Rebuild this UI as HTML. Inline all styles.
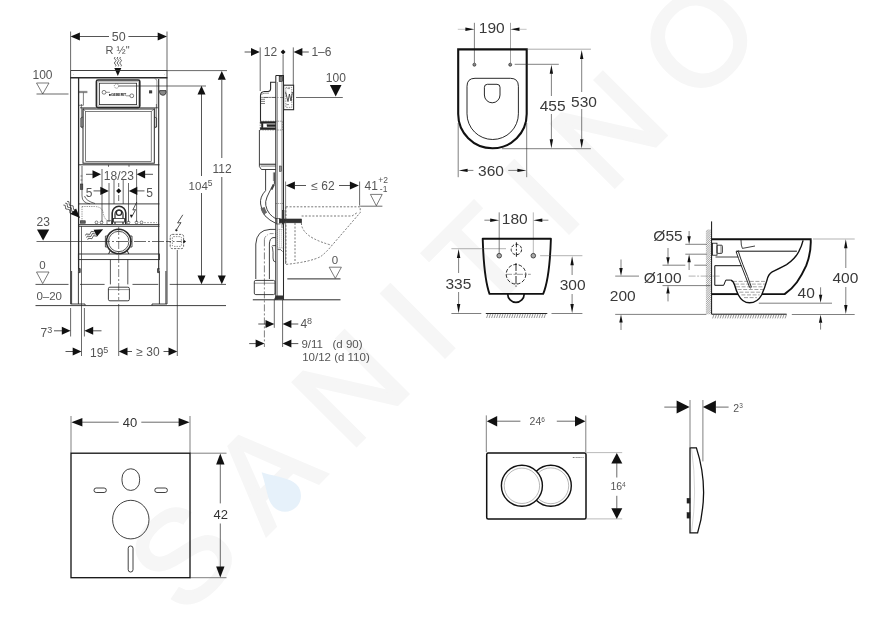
<!DOCTYPE html>
<html lang="en">
<head>
<meta charset="utf-8">
<title>Technical drawing</title>
<style>
html,body{margin:0;padding:0;background:#fff;}
body{width:872px;height:630px;overflow:hidden;}
svg{display:block;filter:blur(0.45px);}
svg text{font-family:"Liberation Sans",sans-serif;}
</style>
</head>
<body>
<svg width="872" height="630" viewBox="0 0 872 630">
<rect x="0" y="0" width="872" height="630" fill="#ffffff"/>
<g id="watermark" transform="rotate(-45)">
<text x="-307" y="567" font-size="130" fill="#f6f6f6" stroke="#f6f6f6" stroke-width="3" letter-spacing="30" xml:space="preserve">SANITINO</text>
<path d="M0,-33 C9,-16 16,-9 16,0 A16,16 0 0 1 -16,0 C-16,-9 -9,-16 0,-33 Z" fill="#e6f1fa" transform="translate(-149,552)"/>
</g>
<g id="frame-front">
<line x1="70.6" y1="31.5" x2="70.6" y2="70.6" stroke="#2a2a2a" stroke-width="0.7"/>
<line x1="167" y1="31.5" x2="167" y2="70.6" stroke="#2a2a2a" stroke-width="0.7"/>
<line x1="79" y1="36.5" x2="109" y2="36.5" stroke="#2a2a2a" stroke-width="0.8"/>
<line x1="128.4" y1="36.5" x2="158" y2="36.5" stroke="#2a2a2a" stroke-width="0.8"/>
<polygon points="70.6,36.5 79.89999999999999,32.5 79.89999999999999,40.5" fill="#111"/>
<polygon points="167,36.5 157.7,32.5 157.7,40.5" fill="#111"/>
<text x="118.7" y="41" font-size="12.5" text-anchor="middle" fill="#555" >50</text>
<text x="117.5" y="54" font-size="11" text-anchor="middle" fill="#555" >R ½"</text>
<path d="M115.2,57 q-1.8,1.2 0,2.4 q1.8,1.2 0,2.4 q-1.8,1.2 0,2.4 q1.4,1 0.4,2.2" fill="none" stroke="#2a2a2a" stroke-width="0.75" />
<path d="M117.9,57 q-1.8,1.2 0,2.4 q1.8,1.2 0,2.4 q-1.8,1.2 0,2.4 q1.4,1 0.4,2.2" fill="none" stroke="#2a2a2a" stroke-width="0.75" />
<path d="M120.60000000000001,57 q-1.8,1.2 0,2.4 q1.8,1.2 0,2.4 q-1.8,1.2 0,2.4 q1.4,1 0.4,2.2" fill="none" stroke="#2a2a2a" stroke-width="0.75" />
<polygon points="117.8,76 114.3,68 121.3,68" fill="#111"/>
<text x="42.5" y="79" font-size="12" text-anchor="middle" fill="#555" >100</text>
<path d="M36.5,83 L49,83 L42.7,94 Z" fill="none" stroke="#444" stroke-width="0.7" />
<line x1="36.5" y1="94" x2="68.5" y2="94" stroke="#2a2a2a" stroke-width="0.7"/>
<line x1="70.6" y1="70.5" x2="167" y2="70.5" stroke="#2a2a2a" stroke-width="0.9"/>
<line x1="70.2" y1="77.7" x2="167.4" y2="77.7" stroke="#2a2a2a" stroke-width="1.5"/>
<line x1="167" y1="70.6" x2="227" y2="70.6" stroke="#2a2a2a" stroke-width="0.7"/>
<line x1="70.6" y1="70.5" x2="70.6" y2="304" stroke="#2a2a2a" stroke-width="0.9"/>
<line x1="167" y1="70.5" x2="167" y2="304" stroke="#2a2a2a" stroke-width="0.9"/>
<line x1="78.6" y1="77.7" x2="78.6" y2="271" stroke="#2a2a2a" stroke-width="1.3"/>
<line x1="158.7" y1="79" x2="158.7" y2="271" stroke="#2a2a2a" stroke-width="1.1"/>
<path d="M154.6,78.6 Q156.9,78.8 156.9,81 V108" fill="none" stroke="#555" stroke-width="0.6" />
<text x="72.6" y="74.6" font-size="2.4" fill="#444">+</text><text x="163.6" y="74.6" font-size="2.4" fill="#444">+</text>
<rect x="96.4" y="80" width="43.4" height="27.6" rx="1.5" fill="none" stroke="#2a2a2a" stroke-width="1.6"/>
<rect x="99.5" y="83.2" width="37.1" height="21.4" rx="0" fill="none" stroke="#2a2a2a" stroke-width="0.8"/>
<rect x="98" y="81.6" width="40.2" height="24.4" rx="0" fill="none" stroke="#666" stroke-width="0.4"/>
<circle cx="116.5" cy="86" r="2.2" fill="none" stroke="#2a2a2a" stroke-width="0.5" stroke-dasharray="1.2 0.8"/>
<circle cx="104" cy="92.3" r="1.9" fill="none" stroke="#2a2a2a" stroke-width="0.6"/>
<circle cx="131.8" cy="95.8" r="1.9" fill="none" stroke="#2a2a2a" stroke-width="0.6"/>
<line x1="106" y1="92.3" x2="110" y2="92.3" stroke="#2a2a2a" stroke-width="0.5"/>
<line x1="126" y1="95.8" x2="130" y2="95.8" stroke="#2a2a2a" stroke-width="0.5"/>
<text x="117.5" y="95.6" font-size="3.6" font-weight="bold" text-anchor="middle" fill="#222" letter-spacing="-0.1">■GEBERIT</text>
<line x1="118.5" y1="86" x2="206" y2="86" stroke="#2a2a2a" stroke-width="0.7"/>
<path d="M78.7,91.4 H87.4 M78.7,92.6 H87.4 M83.4,92.6 V105.3 H78.7" fill="none" stroke="#2a2a2a" stroke-width="0.6" />
<rect x="149.5" y="90.8" width="2.3" height="2.2" rx="0" fill="#444" stroke="#2a2a2a" stroke-width="0.7"/>
<path d="M159.6,90.6 H166 V92.6 Q165.6,95.3 163,95.3 Q160.2,95.3 159.6,92.6 Z" fill="#888" stroke="#2a2a2a" stroke-width="0.8" />
<path d="M96.4,107.8 H80 M139.8,107.8 H157.9" fill="none" stroke="#2a2a2a" stroke-width="0.8" />
<path d="M81.4,104 V127 M83,108 V127 M81.4,127 H83" fill="none" stroke="#2a2a2a" stroke-width="0.6" />
<path d="M156.4,104 V127 M154.8,108 V127 M156.4,127 H154.8" fill="none" stroke="#2a2a2a" stroke-width="0.6" />
<rect x="83" y="109" width="71.3" height="54.2" rx="0" fill="none" stroke="#2a2a2a" stroke-width="1.0"/>
<rect x="85.7" y="111.4" width="65.5" height="50.0" rx="0" fill="none" stroke="#2a2a2a" stroke-width="0.6"/>
<path d="M83,109 L85.7,111.4 M154.3,109 L151.2,111.4" fill="none" stroke="#2a2a2a" stroke-width="0.5" />
<path d="M154.5,117 L156.6,118 V127 L154.5,128" fill="none" stroke="#2a2a2a" stroke-width="0.7" />
<path d="M82.8,117 L80.8,118 V127 L82.8,128" fill="none" stroke="#2a2a2a" stroke-width="0.7" />
<line x1="78.4" y1="164.8" x2="159.4" y2="164.8" stroke="#2a2a2a" stroke-width="1.0"/>
<line x1="108.5" y1="164.8" x2="108.5" y2="166.8" stroke="#2a2a2a" stroke-width="0.7"/>
<line x1="129" y1="164.8" x2="129" y2="166.8" stroke="#2a2a2a" stroke-width="0.7"/>
<path d="M82,166 V196 Q82,203 90,203.8" fill="none" stroke="#2a2a2a" stroke-width="0.7" />
<path d="M84.5,196 Q86,201 95,203.5" fill="none" stroke="#2a2a2a" stroke-width="0.7" />
<rect x="80.4" y="184" width="2.4" height="5.5" rx="0" fill="#555" stroke="#2a2a2a" stroke-width="0.6"/>
<path d="M80.4,176 H82.4 M80.4,180 H82.4" fill="none" stroke="#2a2a2a" stroke-width="0.5" />
<text x="118.8" y="180" font-size="12" text-anchor="middle" fill="#555" >18/23</text>
<polygon points="101,174.3 92.5,170.20000000000002 92.5,178.4" fill="#111"/>
<line x1="86" y1="174.3" x2="93" y2="174.3" stroke="#2a2a2a" stroke-width="0.8"/>
<polygon points="136.6,174.3 145.1,170.20000000000002 145.1,178.4" fill="#111"/>
<line x1="145" y1="174.3" x2="153" y2="174.3" stroke="#2a2a2a" stroke-width="0.8"/>
<line x1="102" y1="169" x2="102" y2="222" stroke="#2a2a2a" stroke-width="0.7"/>
<line x1="136.6" y1="169" x2="136.6" y2="222" stroke="#2a2a2a" stroke-width="0.7"/>
<text x="89" y="196.5" font-size="12" text-anchor="middle" fill="#555" >5</text>
<text x="149.5" y="196.5" font-size="12" text-anchor="middle" fill="#555" >5</text>
<line x1="93.5" y1="190.9" x2="101" y2="190.9" stroke="#2a2a2a" stroke-width="0.8"/>
<polygon points="108.8,190.9 100.3,186.8 100.3,195.0" fill="#111"/>
<line x1="137" y1="190.9" x2="144.5" y2="190.9" stroke="#2a2a2a" stroke-width="0.8"/>
<polygon points="128.8,190.9 137.3,186.8 137.3,195.0" fill="#111"/>
<line x1="109" y1="183" x2="109" y2="222" stroke="#2a2a2a" stroke-width="0.7"/>
<line x1="128.5" y1="183" x2="128.5" y2="222" stroke="#2a2a2a" stroke-width="0.7"/>
<line x1="114" y1="180" x2="114" y2="204" stroke="#2a2a2a" stroke-width="0.7"/>
<line x1="123.2" y1="180" x2="123.2" y2="204" stroke="#2a2a2a" stroke-width="0.7"/>
<line x1="118.7" y1="183" x2="118.7" y2="187" stroke="#2a2a2a" stroke-width="0.7"/>
<line x1="118.7" y1="195" x2="118.7" y2="201" stroke="#2a2a2a" stroke-width="0.7"/>
<polygon points="118.7,188.2 121.3,190.9 118.7,193.6 116.1,190.9" fill="#111"/>
<line x1="78.4" y1="203.9" x2="159.4" y2="203.9" stroke="#2a2a2a" stroke-width="0.9"/>
<line x1="78.4" y1="224.6" x2="159.4" y2="224.6" stroke="#2a2a2a" stroke-width="0.9"/>
<line x1="78.4" y1="226.3" x2="159.4" y2="226.3" stroke="#2a2a2a" stroke-width="0.9"/>
<path d="M82,206.5 H95 Q102,207 103,212 Q104,219 108,221" fill="none" stroke="#2a2a2a" stroke-width="0.5" stroke-dasharray="1.3 1" />
<path d="M82,206.5 V222" fill="none" stroke="#2a2a2a" stroke-width="0.5" stroke-dasharray="1.3 1" />
<path d="M112.2,224 V213 A6.5,6.5 0 0 1 125.8,213 V224" fill="none" stroke="#2a2a2a" stroke-width="1.6" />
<path d="M115,224 V214 A3.9,3.9 0 0 1 123,214 V224" fill="none" stroke="#2a2a2a" stroke-width="1.2" />
<rect x="113.5" y="218.5" width="11.0" height="3.5" rx="0" fill="#fff" stroke="#2a2a2a" stroke-width="0.8"/>
<circle cx="119" cy="212.8" r="2.6" fill="none" stroke="#2a2a2a" stroke-width="1.2"/>
<circle cx="96.5" cy="222.4" r="1.4" fill="none" stroke="#2a2a2a" stroke-width="0.6"/>
<circle cx="101.5" cy="222.4" r="1.4" fill="none" stroke="#2a2a2a" stroke-width="0.6"/>
<circle cx="128.5" cy="222.4" r="1.4" fill="none" stroke="#2a2a2a" stroke-width="0.6"/>
<circle cx="136.5" cy="222.4" r="1.4" fill="none" stroke="#2a2a2a" stroke-width="0.6"/>
<circle cx="141.5" cy="222.4" r="1.4" fill="none" stroke="#2a2a2a" stroke-width="0.6"/>
<rect x="107" y="220.8" width="4.5" height="3.5" rx="0" fill="none" stroke="#2a2a2a" stroke-width="0.6"/>
<rect x="80.5" y="220.8" width="4.7" height="2.4" rx="0" fill="#666" stroke="#2a2a2a" stroke-width="0.7"/>
<line x1="144" y1="222.6" x2="157" y2="222.6" stroke="#2a2a2a" stroke-width="0.4" stroke-dasharray="2 1"/>
<path d="M136.8,202 L132.8,210 L135.6,209.6 L131.8,216.8" fill="none" stroke="#2a2a2a" stroke-width="0.8" />
<polygon points="131.2,218.2 129.89999999999998,214.79999999999998 132.5,214.79999999999998" fill="#111"/>
<g transform="translate(65.2,203.2) rotate(45)">
<path d="M0,-2.6 q1.5,-2.2 3,0 q1.5,2.2 3,0 q1.5,-2.2 3,0 q1.5,2.2 3,0" fill="none" stroke="#2a2a2a" stroke-width="0.7" />
<path d="M0,0 q1.5,-2.2 3,0 q1.5,2.2 3,0 q1.5,-2.2 3,0 q1.5,2.2 3,0" fill="none" stroke="#2a2a2a" stroke-width="0.7" />
<path d="M0,2.6 q1.5,-2.2 3,0 q1.5,2.2 3,0 q1.5,-2.2 3,0 q1.5,2.2 3,0" fill="none" stroke="#2a2a2a" stroke-width="0.7" />
<polygon points="21,0 11.4,-4 11.4,4" fill="#111"/>
</g>
<g transform="translate(86.6,237.6) rotate(-27)">
<path d="M0,-2.4 q1.4,-2 2.8,0 q1.4,2 2.8,0 q1.4,-2 2.8,0 q1.2,1.6 2.2,0.6" fill="none" stroke="#2a2a2a" stroke-width="0.7" />
<path d="M0,0 q1.4,-2 2.8,0 q1.4,2 2.8,0 q1.4,-2 2.8,0 q1.2,1.6 2.2,0.6" fill="none" stroke="#2a2a2a" stroke-width="0.7" />
<path d="M0,2.4 q1.4,-2 2.8,0 q1.4,2 2.8,0 q1.4,-2 2.8,0 q1.2,1.6 2.2,0.6" fill="none" stroke="#2a2a2a" stroke-width="0.7" />
<polygon points="18.6,0 9.8,-3.8 9.8,3.8" fill="#111"/>
</g>
<text x="43.2" y="226.3" font-size="12" text-anchor="middle" fill="#555" >23</text>
<polygon points="37,229.6 49.2,229.6 43.1,240.6" fill="#111"/>
<line x1="36.5" y1="241.5" x2="98" y2="241.5" stroke="#2a2a2a" stroke-width="0.7"/>
<line x1="98" y1="241.5" x2="166" y2="241.5" stroke="#2a2a2a" stroke-width="0.7" stroke-dasharray="12 2 2 2"/>
<line x1="166" y1="241.5" x2="186" y2="241.5" stroke="#2a2a2a" stroke-width="0.7" stroke-dasharray="5 2 1.5 2"/>
<circle cx="118.7" cy="241.5" r="12.2" fill="none" stroke="#2a2a2a" stroke-width="1.5"/>
<circle cx="118.7" cy="241.5" r="10.2" fill="none" stroke="#2a2a2a" stroke-width="0.8"/>
<path d="M107.8,236 L105.4,236 V247 L107.8,247 M129.6,236 L132,236 V247 L129.6,247" fill="none" stroke="#2a2a2a" stroke-width="0.8" />
<path d="M110,251 L108.6,254 M127.4,251 L128.8,254" fill="none" stroke="#2a2a2a" stroke-width="1.0" />
<line x1="118.7" y1="227" x2="118.7" y2="300" stroke="#2a2a2a" stroke-width="0.6" stroke-dasharray="8 2 2 2"/>
<rect x="78.4" y="254" width="81.0" height="5.6" rx="0" fill="none" stroke="#2a2a2a" stroke-width="0.9"/>
<line x1="110.4" y1="259.6" x2="110.4" y2="284.4" stroke="#2a2a2a" stroke-width="0.8"/>
<line x1="127.8" y1="259.6" x2="127.8" y2="284.4" stroke="#2a2a2a" stroke-width="0.8"/>
<rect x="108.4" y="287.2" width="21.0" height="13.6" rx="1.5" fill="none" stroke="#2a2a2a" stroke-width="0.9"/>
<line x1="108.4" y1="289.6" x2="129.4" y2="289.6" stroke="#2a2a2a" stroke-width="0.5"/>
<line x1="35.5" y1="284.4" x2="68.5" y2="284.4" stroke="#2a2a2a" stroke-width="0.8"/>
<line x1="80" y1="284.4" x2="104.6" y2="284.4" stroke="#2a2a2a" stroke-width="0.8"/>
<line x1="132.5" y1="284.4" x2="158.3" y2="284.4" stroke="#2a2a2a" stroke-width="0.8"/>
<line x1="169.7" y1="284.4" x2="226" y2="284.4" stroke="#2a2a2a" stroke-width="0.8"/>
<line x1="35.5" y1="305.6" x2="226" y2="305.6" stroke="#2a2a2a" stroke-width="0.9"/>
<path d="M71.6,271 V304 M78.4,271 V304 M70.6,304 H85 V305.6" fill="none" stroke="#2a2a2a" stroke-width="0.9" />
<path d="M165.9,271 V304 M159.4,271 V304 M167,304 H152 V305.6" fill="none" stroke="#2a2a2a" stroke-width="0.9" />
<path d="M78.4,268.6 H80.2 V272.6 H78.4 M159.4,268.6 H157.6 V272.6 H159.4" fill="#555" stroke="#2a2a2a" stroke-width="0.8" />
<text x="42.5" y="269.2" font-size="11.5" text-anchor="middle" fill="#555" >0</text>
<path d="M36.5,272 L49,272 L42.7,283.6 Z" fill="none" stroke="#444" stroke-width="0.7" />
<text x="49.2" y="300.4" font-size="11.5" text-anchor="middle" fill="#555" >0–20</text>
<rect x="170.2" y="234.4" width="13.4" height="14.2" rx="2" fill="none" stroke="#2a2a2a" stroke-width="0.7" stroke-dasharray="2.2 1.2"/>
<rect x="172.4" y="236.6" width="9.0" height="9.8" rx="1" fill="none" stroke="#2a2a2a" stroke-width="0.5" stroke-dasharray="1.5 1"/>
<polygon points="186,241.5 183.4,239.6 183.4,243.4" fill="#111"/>
<path d="M182.8,214.8 L177.6,223 L181,222.6 L176.6,229.4" fill="none" stroke="#2a2a2a" stroke-width="0.8" />
<circle cx="176.4" cy="230.2" r="0.9" fill="#111" stroke="#2a2a2a" stroke-width="0.5"/>
<line x1="70.6" y1="308" x2="70.6" y2="336.5" stroke="#2a2a2a" stroke-width="0.7"/>
<line x1="84.4" y1="308" x2="84.4" y2="336.5" stroke="#2a2a2a" stroke-width="0.7"/>
<line x1="81.5" y1="226" x2="81.5" y2="356" stroke="#2a2a2a" stroke-width="0.7"/>
<line x1="118.7" y1="304" x2="118.7" y2="356" stroke="#2a2a2a" stroke-width="0.7"/>
<line x1="177.3" y1="250" x2="177.3" y2="356" stroke="#2a2a2a" stroke-width="0.7"/>
<text x="40.5" y="336.6" font-size="12" text-anchor="start" fill="#555" >7<tspan font-size="9" dy="-4">3</tspan></text>
<line x1="54" y1="330.8" x2="62" y2="330.8" stroke="#2a2a2a" stroke-width="0.8"/>
<polygon points="70.6,330.8 61.8,326.8 61.8,334.8" fill="#111"/>
<polygon points="84.4,330.8 93.2,326.8 93.2,334.8" fill="#111"/>
<line x1="93" y1="330.8" x2="101.5" y2="330.8" stroke="#2a2a2a" stroke-width="0.8"/>
<line x1="65.5" y1="351.5" x2="73" y2="351.5" stroke="#2a2a2a" stroke-width="0.8"/>
<polygon points="81.5,351.5 72.7,347.5 72.7,355.5" fill="#111"/>
<text x="90" y="356.6" font-size="12" text-anchor="start" fill="#555" >19<tspan font-size="9" dy="-4">5</tspan></text>
<polygon points="118.7,351.5 127.5,347.5 127.5,355.5" fill="#111"/>
<line x1="127" y1="351.5" x2="132" y2="351.5" stroke="#2a2a2a" stroke-width="0.8"/>
<text x="148" y="356.4" font-size="12" text-anchor="middle" fill="#555" >≥ 30</text>
<line x1="163.5" y1="351.5" x2="169" y2="351.5" stroke="#2a2a2a" stroke-width="0.8"/>
<polygon points="177.3,351.5 168.5,347.5 168.5,355.5" fill="#111"/>
<line x1="201.5" y1="94" x2="201.5" y2="176" stroke="#2a2a2a" stroke-width="0.8"/>
<line x1="201.5" y1="193" x2="201.5" y2="276" stroke="#2a2a2a" stroke-width="0.8"/>
<polygon points="201.5,85.8 197.5,94.6 205.5,94.6" fill="#111"/>
<polygon points="201.5,284.2 197.5,275.4 205.5,275.4" fill="#111"/>
<text x="188.6" y="190" font-size="11.5" text-anchor="start" fill="#555" >104<tspan font-size="8.5" dy="-4">5</tspan></text>
<line x1="221.8" y1="80" x2="221.8" y2="158" stroke="#2a2a2a" stroke-width="0.8"/>
<line x1="221.8" y1="177" x2="221.8" y2="276" stroke="#2a2a2a" stroke-width="0.8"/>
<polygon points="221.8,71 217.8,79.8 225.8,79.8" fill="#111"/>
<polygon points="221.8,284.2 217.8,275.4 225.8,275.4" fill="#111"/>
<text x="222" y="173" font-size="12" text-anchor="middle" fill="#555" >112</text>
</g>
<g id="frame-side">
<line x1="244.6" y1="52" x2="251" y2="52" stroke="#2a2a2a" stroke-width="0.8"/>
<polygon points="259.8,52 251.0,48.0 251.0,56.0" fill="#111"/>
<line x1="260.2" y1="47.4" x2="260.2" y2="91" stroke="#2a2a2a" stroke-width="0.7"/>
<text x="270.4" y="56.4" font-size="12" text-anchor="middle" fill="#555" >12</text>
<polygon points="283.1,49.4 285.5,52 283.1,54.6 280.7,52" fill="#111"/>
<line x1="283.1" y1="54.6" x2="283.1" y2="75" stroke="#2a2a2a" stroke-width="0.7"/>
<line x1="293.3" y1="47.4" x2="293.3" y2="85" stroke="#2a2a2a" stroke-width="0.7"/>
<polygon points="293.6,52 302.40000000000003,48.0 302.40000000000003,56.0" fill="#111"/>
<line x1="302" y1="52" x2="308.8" y2="52" stroke="#2a2a2a" stroke-width="0.8"/>
<text x="321.4" y="56.4" font-size="12" text-anchor="middle" fill="#555" >1–6</text>
<text x="335.8" y="81.6" font-size="12" text-anchor="middle" fill="#555" >100</text>
<polygon points="329.9,85 341.5,85 335.7,96.6" fill="#111"/>
<line x1="296" y1="97.5" x2="342.8" y2="97.5" stroke="#2a2a2a" stroke-width="0.7"/>
<path d="M275.8,75.5 H283.5 V300 M275.8,75.5 V300" fill="none" stroke="#2a2a2a" stroke-width="1.05" />
<line x1="277.4" y1="82" x2="277.4" y2="300" stroke="#2a2a2a" stroke-width="0.5"/>
<line x1="282" y1="82" x2="282" y2="228" stroke="#2a2a2a" stroke-width="0.6"/>
<rect x="279.2" y="76.4" width="3.4" height="5.0" rx="0" fill="#777" stroke="#2a2a2a" stroke-width="0.7"/>
<path d="M275.8,82.2 H270.6 V89 Q270.4,91.4 268,91.5 H264.4 Q260.6,91.8 260.5,95.6 V121" fill="none" stroke="#2a2a2a" stroke-width="1.1" />
<path d="M261.4,95 Q262,93.4 264.6,93.2 H269" fill="none" stroke="#2a2a2a" stroke-width="0.5" />
<path d="M260.4,97.4 H275.8" fill="none" stroke="#2a2a2a" stroke-width="0.5" />
<path d="M260.8,99.3 H265 M260.8,101.4 H265 M260.8,103.5 H265" fill="none" stroke="#2a2a2a" stroke-width="0.6" />
<line x1="264" y1="97.5" x2="283.7" y2="97.5" stroke="#2a2a2a" stroke-width="0.5" stroke-dasharray="4 1.5 1 1.5"/>
<rect x="283.6" y="85.2" width="10.0" height="24.5" rx="0" fill="none" stroke="#2a2a2a" stroke-width="1.1"/>
<rect x="285.8" y="87.4" width="6.0" height="20.0" rx="0" fill="none" stroke="#2a2a2a" stroke-width="0.5" stroke-dasharray="1.5 1"/>
<path d="M285.6,92 L288,101.6 L289.4,94 L291,101 L292.4,92" fill="none" stroke="#2a2a2a" stroke-width="0.8" />
<path d="M286.4,104.6 H289 M287.4,88.6 H290" fill="none" stroke="#2a2a2a" stroke-width="0.5" />
<rect x="260.2" y="121.2" width="22.4" height="8.8" rx="0" fill="none" stroke="#555" stroke-width="0.6" stroke-dasharray="1.5 1"/>
<rect x="260.2" y="121.6" width="15.6" height="1.6" rx="0" fill="#222" stroke="#2a2a2a" stroke-width="0.5"/>
<rect x="260.2" y="127.8" width="15.6" height="1.8" rx="0" fill="#222" stroke="#2a2a2a" stroke-width="0.5"/>
<rect x="261.4" y="123.2" width="1.6" height="4.6" rx="0" fill="#222" stroke="#2a2a2a" stroke-width="0.4"/>
<rect x="267" y="124.6" width="8.8" height="2.0" rx="0" fill="#222" stroke="#2a2a2a" stroke-width="0.4"/>
<path d="M259.4,130 V166.5 L261.4,169.5 H275.8 M259.4,164.2 H275.8" fill="none" stroke="#2a2a2a" stroke-width="0.9" />
<line x1="260.6" y1="164.8" x2="275.8" y2="164.8" stroke="#2a2a2a" stroke-width="0.5"/>
<line x1="260.6" y1="166.2" x2="275.8" y2="166.2" stroke="#2a2a2a" stroke-width="0.5"/>
<rect x="279.4" y="166" width="2.2" height="5.4" rx="0" fill="#999" stroke="#2a2a2a" stroke-width="0.5"/>
<path d="M265.6,169.5 V190.6 Q259.6,197 260.6,204 Q261.4,210.6 265,215.8 Q269.6,220.6 275.6,223.2" fill="none" stroke="#2a2a2a" stroke-width="0.9" />
<path d="M274.4,172.4 V183.9 Q269,191.6 267,197 Q265,202 265.8,205.4 Q266.6,210 269.6,213.8 Q272.4,216.8 275.8,218.8" fill="none" stroke="#2a2a2a" stroke-width="0.9" />
<path d="M273.4,172.4 V181" fill="none" stroke="#2a2a2a" stroke-width="0.5" />
<path d="M273.8,184.6 Q272.4,187.4 271.4,189.4" fill="none" stroke="#444" stroke-width="2.2" />
<path d="M262.6,207.6 Q263.6,211 265.4,213.6" fill="none" stroke="#666" stroke-width="4.2" />
<line x1="275.8" y1="203.5" x2="283.7" y2="203.5" stroke="#2a2a2a" stroke-width="0.5" stroke-dasharray="1 1"/>
<rect x="279.4" y="219" width="22.2" height="3.8" rx="0" fill="#333" stroke="#2a2a2a" stroke-width="0.6"/>
<rect x="282.4" y="210.4" width="1.6" height="13.6" rx="0" fill="#333" stroke="#2a2a2a" stroke-width="0.6"/>
<rect x="276.6" y="218.4" width="3.4" height="5.6" rx="0" fill="none" stroke="#2a2a2a" stroke-width="0.6"/>
<line x1="285.6" y1="181.5" x2="285.6" y2="264" stroke="#2a2a2a" stroke-width="0.6"/>
<polygon points="285.9,185.5 294.9,181.5 294.9,189.5" fill="#111"/>
<line x1="294.5" y1="185.5" x2="306" y2="185.5" stroke="#2a2a2a" stroke-width="0.8"/>
<text x="323" y="190.2" font-size="12" text-anchor="middle" fill="#555" >≤ 62</text>
<line x1="339" y1="185.5" x2="350.5" y2="185.5" stroke="#2a2a2a" stroke-width="0.8"/>
<polygon points="358.9,185.5 349.9,181.5 349.9,189.5" fill="#111"/>
<line x1="359.6" y1="181.5" x2="359.6" y2="205.6" stroke="#2a2a2a" stroke-width="0.7"/>
<text x="364.6" y="190.2" font-size="12" text-anchor="start" fill="#555" >41</text>
<text x="378.2" y="183.2" font-size="8.5" text-anchor="start" fill="#555" >+2</text>
<text x="379.8" y="191.8" font-size="8.5" text-anchor="start" fill="#555" >-1</text>
<path d="M370.4,194.4 L382.2,194.4 L376.3,205.8 Z" fill="none" stroke="#444" stroke-width="0.7" />
<line x1="360.2" y1="206.2" x2="382.4" y2="206.2" stroke="#2a2a2a" stroke-width="0.7"/>
<path d="M286,206.8 H360.2 V212.6 L331.8,245.6 Q326,252.6 320.6,256.6 Q310,262 286,264.4" fill="none" stroke="#555" stroke-width="0.8" stroke-dasharray="2 1.6" />
<path d="M301.6,216 H352 L357.5,212.5" fill="none" stroke="#555" stroke-width="0.8" stroke-dasharray="2 1.6" />
<path d="M301.4,223 Q301.6,232 313.4,238.4 Q321,242.4 331.6,245.2" fill="none" stroke="#555" stroke-width="0.8" stroke-dasharray="2 1.6" />
<line x1="295" y1="223" x2="295" y2="262.4" stroke="#555" stroke-width="0.8" stroke-dasharray="2 1.6"/>
<line x1="285.9" y1="206.8" x2="285.9" y2="264" stroke="#555" stroke-width="0.8" stroke-dasharray="2 1.6"/>
<path d="M275.8,229.4 H270 Q256.6,230 255.8,244 V279" fill="none" stroke="#2a2a2a" stroke-width="0.9" />
<path d="M275.8,237.6 H273 Q269.6,238.4 269.4,244 V279" fill="none" stroke="#2a2a2a" stroke-width="0.9" />
<line x1="264.4" y1="239.4" x2="264.4" y2="347" stroke="#2a2a2a" stroke-width="0.6" stroke-dasharray="7 2 2 2"/>
<path d="M264.4,239.4 Q264.6,235.8 270,233.6 H276" fill="none" stroke="#2a2a2a" stroke-width="0.5" stroke-dasharray="4 1.5 1 1.5" />
<rect x="254.3" y="280.4" width="20.7" height="14.2" rx="1.5" fill="none" stroke="#2a2a2a" stroke-width="0.9"/>
<line x1="254.3" y1="283.2" x2="275" y2="283.2" stroke="#2a2a2a" stroke-width="0.5"/>
<rect x="277.4" y="229.4" width="6.3" height="18.6" rx="0" fill="none" stroke="#555" stroke-width="0.5" stroke-dasharray="1 1"/>
<line x1="279.6" y1="229.4" x2="279.6" y2="248" stroke="#555" stroke-width="0.5" stroke-dasharray="1 1"/>
<line x1="281.6" y1="229.4" x2="281.6" y2="248" stroke="#555" stroke-width="0.5" stroke-dasharray="1 1"/>
<path d="M271.6,246.6 Q272,245.6 274,245.6 H276 M272.4,247 Q273.4,252 273,258 Q272.8,262 275.8,262" fill="none" stroke="#2a2a2a" stroke-width="0.8" />
<path d="M277.6,249.6 Q281,248.6 282.6,251.6" fill="none" stroke="#2a2a2a" stroke-width="0.7" />
<line x1="287.3" y1="278.9" x2="340.5" y2="278.9" stroke="#2a2a2a" stroke-width="1.0"/>
<line x1="252.8" y1="299.8" x2="340.5" y2="299.8" stroke="#2a2a2a" stroke-width="1.0"/>
<polygon points="274,299.4 276,295.6 283.7,295.6 283.7,299.4" fill="#333"/>
<text x="335" y="264" font-size="11.5" text-anchor="middle" fill="#555" >0</text>
<path d="M329.2,267.2 L341.4,267.2 L335.3,278.4 Z" fill="none" stroke="#444" stroke-width="0.7" />
<line x1="274.3" y1="299.8" x2="274.3" y2="327.8" stroke="#2a2a2a" stroke-width="0.7"/>
<line x1="282.6" y1="299.8" x2="282.6" y2="347" stroke="#2a2a2a" stroke-width="0.7"/>
<line x1="258.3" y1="324" x2="266" y2="324" stroke="#2a2a2a" stroke-width="0.8"/>
<polygon points="274.3,324 265.5,320.0 265.5,328.0" fill="#111"/>
<polygon points="282.6,324 291.40000000000003,320.0 291.40000000000003,328.0" fill="#111"/>
<line x1="291" y1="324" x2="298.3" y2="324" stroke="#2a2a2a" stroke-width="0.8"/>
<text x="300.4" y="327.8" font-size="12" text-anchor="start" fill="#555" >4<tspan font-size="9" dy="-4">8</tspan></text>
<line x1="249.2" y1="343.6" x2="256" y2="343.6" stroke="#2a2a2a" stroke-width="0.8"/>
<polygon points="264.4,343.6 255.59999999999997,339.6 255.59999999999997,347.6" fill="#111"/>
<polygon points="282.6,343.6 291.40000000000003,339.6 291.40000000000003,347.6" fill="#111"/>
<line x1="291" y1="343.6" x2="298.3" y2="343.6" stroke="#2a2a2a" stroke-width="0.8"/>
<text x="301.4" y="347.8" font-size="11.5" fill="#555" xml:space="preserve">9/11   (d 90)</text>
<text x="302.2" y="361.2" font-size="11.5" text-anchor="start" fill="#555" >10/12 (d 110)</text>
</g>
<g id="wc-top">
<text x="491.8" y="33" font-size="15.5" text-anchor="middle" fill="#3a3a3a" >190</text>
<line x1="474.4" y1="22.8" x2="474.4" y2="63" stroke="#2a2a2a" stroke-width="0.6"/>
<line x1="510.5" y1="22.8" x2="510.5" y2="63" stroke="#666" stroke-width="0.6"/>
<line x1="457.8" y1="29.3" x2="466" y2="29.3" stroke="#888" stroke-width="0.5"/>
<polygon points="474.4,29.3 465.4,27.6 465.4,31.0" fill="#111"/>
<polygon points="510.5,29.3 519.5,27.6 519.5,31.0" fill="#111"/>
<line x1="519" y1="29.3" x2="526.6" y2="29.3" stroke="#888" stroke-width="0.5"/>
<path d="M458.2,49.4 H526.7 V114 A34.25,34.25 0 0 1 458.2,114 Z" fill="none" stroke="#111" stroke-width="2.1" />
<path d="M475,78.3 H510.4 Q518.4,78.3 518.4,86.3 V113.8 A25.7,25.7 0 0 1 467,113.8 V86.3 Q467,78.3 475,78.3 Z" fill="none" stroke="#111" stroke-width="0.9" />
<path d="M487.4,84.3 H497 Q500,84.3 500,87.3 V95 A7.8,7.8 0 0 1 484.4,95 V87.3 Q484.4,84.3 487.4,84.3 Z" fill="none" stroke="#111" stroke-width="0.9" />
<circle cx="474.4" cy="64.7" r="1.5" fill="#888" stroke="#2a2a2a" stroke-width="0.7"/>
<circle cx="510.2" cy="64.7" r="1.5" fill="#888" stroke="#2a2a2a" stroke-width="0.7"/>
<line x1="514.7" y1="64.3" x2="558.8" y2="64.3" stroke="#2a2a2a" stroke-width="0.6"/>
<line x1="526.7" y1="49.2" x2="590.9" y2="49.2" stroke="#555" stroke-width="0.5"/>
<line x1="501.9" y1="148.7" x2="590.9" y2="148.7" stroke="#2a2a2a" stroke-width="0.6"/>
<line x1="551.4" y1="70" x2="551.4" y2="96" stroke="#2a2a2a" stroke-width="0.6"/>
<line x1="551.4" y1="114" x2="551.4" y2="142" stroke="#2a2a2a" stroke-width="0.6"/>
<polygon points="551.4,64.7 549.6999999999999,73.7 553.1,73.7" fill="#111"/>
<polygon points="551.4,148.3 549.6999999999999,139.3 553.1,139.3" fill="#111"/>
<line x1="581.7" y1="56" x2="581.7" y2="92" stroke="#2a2a2a" stroke-width="0.6"/>
<line x1="581.7" y1="109" x2="581.7" y2="142" stroke="#2a2a2a" stroke-width="0.6"/>
<polygon points="581.7,50 580.0,59 583.4000000000001,59" fill="#111"/>
<polygon points="581.7,148.3 580.0,139.3 583.4000000000001,139.3" fill="#111"/>
<text x="552.6" y="111.2" font-size="15.5" text-anchor="middle" fill="#3a3a3a" >455</text>
<text x="584" y="106.6" font-size="15.5" text-anchor="middle" fill="#3a3a3a" >530</text>
<line x1="458.2" y1="123" x2="458.2" y2="177.2" stroke="#2a2a2a" stroke-width="0.6"/>
<line x1="526.7" y1="123" x2="526.7" y2="177.2" stroke="#2a2a2a" stroke-width="0.6"/>
<polygon points="458.6,170.4 467.6,168.70000000000002 467.6,172.1" fill="#111"/>
<line x1="467" y1="170.4" x2="473.4" y2="170.4" stroke="#2a2a2a" stroke-width="0.6"/>
<line x1="508.3" y1="170.4" x2="518" y2="170.4" stroke="#2a2a2a" stroke-width="0.6"/>
<polygon points="526.4,170.4 517.4,168.70000000000002 517.4,172.1" fill="#111"/>
<text x="491" y="176.2" font-size="15.5" text-anchor="middle" fill="#3a3a3a" >360</text>
</g>
<g id="wc-back">
<text x="514.8" y="224.4" font-size="15.5" text-anchor="middle" fill="#3a3a3a" >180</text>
<line x1="499.2" y1="212.4" x2="499.2" y2="255" stroke="#2a2a2a" stroke-width="0.6"/>
<line x1="533.3" y1="212.4" x2="533.3" y2="255" stroke="#888" stroke-width="0.6"/>
<line x1="484.4" y1="220.2" x2="491" y2="220.2" stroke="#2a2a2a" stroke-width="0.6"/>
<polygon points="499.2,220.2 490.2,218.5 490.2,221.89999999999998" fill="#111"/>
<polygon points="533.3,220.2 542.3,218.5 542.3,221.89999999999998" fill="#111"/>
<line x1="542" y1="220.2" x2="548.4" y2="220.2" stroke="#2a2a2a" stroke-width="0.6"/>
<path d="M482.7,238.8 H550.9 Q549.7,278 543.2,293.9 H489.5 Q483.9,278 482.7,238.8 Z" fill="none" stroke="#111" stroke-width="1.9" stroke-linejoin="round"/>
<circle cx="499.2" cy="255.7" r="2.3" fill="#aaa" stroke="#2a2a2a" stroke-width="0.8"/>
<circle cx="533.3" cy="255.7" r="2.3" fill="#aaa" stroke="#2a2a2a" stroke-width="0.8"/>
<circle cx="516.4" cy="249.5" r="5.2" fill="none" stroke="#111" stroke-width="0.9" stroke-dasharray="3 1.6"/>
<line x1="516.4" y1="242.3" x2="516.4" y2="256.8" stroke="#111" stroke-width="0.9" stroke-dasharray="5 1.5 2 1.5"/>
<circle cx="516" cy="274.3" r="9.8" fill="none" stroke="#111" stroke-width="0.9" stroke-dasharray="3.6 1.8"/>
<line x1="516" y1="263" x2="516" y2="286.7" stroke="#111" stroke-width="0.9" stroke-dasharray="8 1.5 2 1.5"/>
<line x1="506" y1="274.3" x2="530.8" y2="274.3" stroke="#555" stroke-width="0.6" stroke-dasharray="6 1.5 2 1.5"/>
<path d="M507.7,294 A8.25,8.3 0 0 0 524.2,294" fill="none" stroke="#111" stroke-width="1.7" />
<line x1="485.8" y1="313.5" x2="547.3" y2="313.5" stroke="#111" stroke-width="0.9"/>
<line x1="488.0" y1="313.8" x2="486.6" y2="318" stroke="#333" stroke-width="0.5"/>
<line x1="490.5" y1="313.8" x2="489.1" y2="318" stroke="#333" stroke-width="0.5"/>
<line x1="493.0" y1="313.8" x2="491.6" y2="318" stroke="#333" stroke-width="0.5"/>
<line x1="495.5" y1="313.8" x2="494.1" y2="318" stroke="#333" stroke-width="0.5"/>
<line x1="498.0" y1="313.8" x2="496.6" y2="318" stroke="#333" stroke-width="0.5"/>
<line x1="500.5" y1="313.8" x2="499.1" y2="318" stroke="#333" stroke-width="0.5"/>
<line x1="503.0" y1="313.8" x2="501.6" y2="318" stroke="#333" stroke-width="0.5"/>
<line x1="505.5" y1="313.8" x2="504.1" y2="318" stroke="#333" stroke-width="0.5"/>
<line x1="508.0" y1="313.8" x2="506.6" y2="318" stroke="#333" stroke-width="0.5"/>
<line x1="510.5" y1="313.8" x2="509.1" y2="318" stroke="#333" stroke-width="0.5"/>
<line x1="513.0" y1="313.8" x2="511.6" y2="318" stroke="#333" stroke-width="0.5"/>
<line x1="515.5" y1="313.8" x2="514.1" y2="318" stroke="#333" stroke-width="0.5"/>
<line x1="518.0" y1="313.8" x2="516.6" y2="318" stroke="#333" stroke-width="0.5"/>
<line x1="520.5" y1="313.8" x2="519.1" y2="318" stroke="#333" stroke-width="0.5"/>
<line x1="523.0" y1="313.8" x2="521.6" y2="318" stroke="#333" stroke-width="0.5"/>
<line x1="525.5" y1="313.8" x2="524.1" y2="318" stroke="#333" stroke-width="0.5"/>
<line x1="528.0" y1="313.8" x2="526.6" y2="318" stroke="#333" stroke-width="0.5"/>
<line x1="530.5" y1="313.8" x2="529.1" y2="318" stroke="#333" stroke-width="0.5"/>
<line x1="533.0" y1="313.8" x2="531.6" y2="318" stroke="#333" stroke-width="0.5"/>
<line x1="535.5" y1="313.8" x2="534.1" y2="318" stroke="#333" stroke-width="0.5"/>
<line x1="538.0" y1="313.8" x2="536.6" y2="318" stroke="#333" stroke-width="0.5"/>
<line x1="540.5" y1="313.8" x2="539.1" y2="318" stroke="#333" stroke-width="0.5"/>
<line x1="543.0" y1="313.8" x2="541.6" y2="318" stroke="#333" stroke-width="0.5"/>
<line x1="545.5" y1="313.8" x2="544.1" y2="318" stroke="#333" stroke-width="0.5"/>
<line x1="451.4" y1="248.7" x2="506" y2="248.7" stroke="#666" stroke-width="0.5"/>
<line x1="451.4" y1="313.5" x2="481.3" y2="313.5" stroke="#2a2a2a" stroke-width="0.6"/>
<line x1="458.6" y1="255" x2="458.6" y2="273" stroke="#2a2a2a" stroke-width="0.6"/>
<line x1="458.6" y1="292" x2="458.6" y2="307" stroke="#2a2a2a" stroke-width="0.6"/>
<polygon points="458.6,249.1 456.90000000000003,258.1 460.3,258.1" fill="#111"/>
<polygon points="458.6,313.1 456.90000000000003,304.1 460.3,304.1" fill="#111"/>
<text x="458.4" y="288.8" font-size="15.5" text-anchor="middle" fill="#3a3a3a" >335</text>
<line x1="540.1" y1="255.7" x2="582.4" y2="255.7" stroke="#666" stroke-width="0.5"/>
<line x1="551.5" y1="313.5" x2="582.4" y2="313.5" stroke="#2a2a2a" stroke-width="0.6"/>
<line x1="572.1" y1="262" x2="572.1" y2="275" stroke="#2a2a2a" stroke-width="0.6"/>
<line x1="572.1" y1="294" x2="572.1" y2="307" stroke="#2a2a2a" stroke-width="0.6"/>
<polygon points="572.1,256.2 570.4,265.2 573.8000000000001,265.2" fill="#111"/>
<polygon points="572.1,313.1 570.4,304.1 573.8000000000001,304.1" fill="#111"/>
<text x="572.6" y="290.4" font-size="15.5" text-anchor="middle" fill="#3a3a3a" >300</text>
</g>
<g id="wc-side">
<line x1="711.6" y1="221.4" x2="711.6" y2="314.2" stroke="#111" stroke-width="1.0"/>
<clipPath id="wallclip"><rect x="705.8" y="229.6" width="5.8" height="84.6"/></clipPath>
<g clip-path="url(#wallclip)">
<line x1="705.4" y1="232.4" x2="712" y2="225.6" stroke="#333" stroke-width="0.45"/>
<line x1="705.4" y1="234.3" x2="712" y2="227.5" stroke="#333" stroke-width="0.45"/>
<line x1="705.4" y1="236.20000000000002" x2="712" y2="229.4" stroke="#333" stroke-width="0.45"/>
<line x1="705.4" y1="238.1" x2="712" y2="231.29999999999998" stroke="#333" stroke-width="0.45"/>
<line x1="705.4" y1="240.0" x2="712" y2="233.2" stroke="#333" stroke-width="0.45"/>
<line x1="705.4" y1="241.9" x2="712" y2="235.1" stroke="#333" stroke-width="0.45"/>
<line x1="705.4" y1="243.8" x2="712" y2="237.0" stroke="#333" stroke-width="0.45"/>
<line x1="705.4" y1="245.70000000000002" x2="712" y2="238.9" stroke="#333" stroke-width="0.45"/>
<line x1="705.4" y1="247.6" x2="712" y2="240.79999999999998" stroke="#333" stroke-width="0.45"/>
<line x1="705.4" y1="249.5" x2="712" y2="242.7" stroke="#333" stroke-width="0.45"/>
<line x1="705.4" y1="251.4" x2="712" y2="244.6" stroke="#333" stroke-width="0.45"/>
<line x1="705.4" y1="253.3" x2="712" y2="246.5" stroke="#333" stroke-width="0.45"/>
<line x1="705.4" y1="255.20000000000002" x2="712" y2="248.4" stroke="#333" stroke-width="0.45"/>
<line x1="705.4" y1="257.09999999999997" x2="712" y2="250.29999999999998" stroke="#333" stroke-width="0.45"/>
<line x1="705.4" y1="259.0" x2="712" y2="252.2" stroke="#333" stroke-width="0.45"/>
<line x1="705.4" y1="260.9" x2="712" y2="254.1" stroke="#333" stroke-width="0.45"/>
<line x1="705.4" y1="262.79999999999995" x2="712" y2="255.99999999999997" stroke="#333" stroke-width="0.45"/>
<line x1="705.4" y1="264.7" x2="712" y2="257.90000000000003" stroke="#333" stroke-width="0.45"/>
<line x1="705.4" y1="266.59999999999997" x2="712" y2="259.8" stroke="#333" stroke-width="0.45"/>
<line x1="705.4" y1="268.5" x2="712" y2="261.70000000000005" stroke="#333" stroke-width="0.45"/>
<line x1="705.4" y1="270.4" x2="712" y2="263.6" stroke="#333" stroke-width="0.45"/>
<line x1="705.4" y1="272.29999999999995" x2="712" y2="265.5" stroke="#333" stroke-width="0.45"/>
<line x1="705.4" y1="274.2" x2="712" y2="267.40000000000003" stroke="#333" stroke-width="0.45"/>
<line x1="705.4" y1="276.09999999999997" x2="712" y2="269.3" stroke="#333" stroke-width="0.45"/>
<line x1="705.4" y1="278.0" x2="712" y2="271.20000000000005" stroke="#333" stroke-width="0.45"/>
<line x1="705.4" y1="279.9" x2="712" y2="273.1" stroke="#333" stroke-width="0.45"/>
<line x1="705.4" y1="281.79999999999995" x2="712" y2="275.0" stroke="#333" stroke-width="0.45"/>
<line x1="705.4" y1="283.7" x2="712" y2="276.90000000000003" stroke="#333" stroke-width="0.45"/>
<line x1="705.4" y1="285.59999999999997" x2="712" y2="278.8" stroke="#333" stroke-width="0.45"/>
<line x1="705.4" y1="287.5" x2="712" y2="280.70000000000005" stroke="#333" stroke-width="0.45"/>
<line x1="705.4" y1="289.4" x2="712" y2="282.6" stroke="#333" stroke-width="0.45"/>
<line x1="705.4" y1="291.29999999999995" x2="712" y2="284.5" stroke="#333" stroke-width="0.45"/>
<line x1="705.4" y1="293.2" x2="712" y2="286.40000000000003" stroke="#333" stroke-width="0.45"/>
<line x1="705.4" y1="295.09999999999997" x2="712" y2="288.3" stroke="#333" stroke-width="0.45"/>
<line x1="705.4" y1="297.0" x2="712" y2="290.20000000000005" stroke="#333" stroke-width="0.45"/>
<line x1="705.4" y1="298.9" x2="712" y2="292.1" stroke="#333" stroke-width="0.45"/>
<line x1="705.4" y1="300.79999999999995" x2="712" y2="294.0" stroke="#333" stroke-width="0.45"/>
<line x1="705.4" y1="302.7" x2="712" y2="295.90000000000003" stroke="#333" stroke-width="0.45"/>
<line x1="705.4" y1="304.59999999999997" x2="712" y2="297.8" stroke="#333" stroke-width="0.45"/>
<line x1="705.4" y1="306.5" x2="712" y2="299.70000000000005" stroke="#333" stroke-width="0.45"/>
<line x1="705.4" y1="308.4" x2="712" y2="301.6" stroke="#333" stroke-width="0.45"/>
<line x1="705.4" y1="310.29999999999995" x2="712" y2="303.5" stroke="#333" stroke-width="0.45"/>
<line x1="705.4" y1="312.2" x2="712" y2="305.40000000000003" stroke="#333" stroke-width="0.45"/>
<line x1="705.4" y1="314.09999999999997" x2="712" y2="307.3" stroke="#333" stroke-width="0.45"/>
<line x1="705.4" y1="316.0" x2="712" y2="309.20000000000005" stroke="#333" stroke-width="0.45"/>
<line x1="705.4" y1="317.9" x2="712" y2="311.1" stroke="#333" stroke-width="0.45"/>
<line x1="705.4" y1="319.79999999999995" x2="712" y2="313.0" stroke="#333" stroke-width="0.45"/>
<line x1="705.4" y1="321.7" x2="712" y2="314.90000000000003" stroke="#333" stroke-width="0.45"/>
<line x1="705.4" y1="323.59999999999997" x2="712" y2="316.8" stroke="#333" stroke-width="0.45"/>
<line x1="705.4" y1="325.5" x2="712" y2="318.70000000000005" stroke="#333" stroke-width="0.45"/>
</g>
<line x1="711.6" y1="314.2" x2="786.6" y2="314.2" stroke="#111" stroke-width="1.0"/>
<line x1="714.0" y1="314.4" x2="712.6" y2="318.4" stroke="#333" stroke-width="0.5"/>
<line x1="716.5" y1="314.4" x2="715.1" y2="318.4" stroke="#333" stroke-width="0.5"/>
<line x1="719.0" y1="314.4" x2="717.6" y2="318.4" stroke="#333" stroke-width="0.5"/>
<line x1="721.5" y1="314.4" x2="720.1" y2="318.4" stroke="#333" stroke-width="0.5"/>
<line x1="724.0" y1="314.4" x2="722.6" y2="318.4" stroke="#333" stroke-width="0.5"/>
<line x1="726.5" y1="314.4" x2="725.1" y2="318.4" stroke="#333" stroke-width="0.5"/>
<line x1="729.0" y1="314.4" x2="727.6" y2="318.4" stroke="#333" stroke-width="0.5"/>
<line x1="731.5" y1="314.4" x2="730.1" y2="318.4" stroke="#333" stroke-width="0.5"/>
<line x1="734.0" y1="314.4" x2="732.6" y2="318.4" stroke="#333" stroke-width="0.5"/>
<line x1="736.5" y1="314.4" x2="735.1" y2="318.4" stroke="#333" stroke-width="0.5"/>
<line x1="739.0" y1="314.4" x2="737.6" y2="318.4" stroke="#333" stroke-width="0.5"/>
<line x1="741.5" y1="314.4" x2="740.1" y2="318.4" stroke="#333" stroke-width="0.5"/>
<line x1="744.0" y1="314.4" x2="742.6" y2="318.4" stroke="#333" stroke-width="0.5"/>
<line x1="746.5" y1="314.4" x2="745.1" y2="318.4" stroke="#333" stroke-width="0.5"/>
<line x1="749.0" y1="314.4" x2="747.6" y2="318.4" stroke="#333" stroke-width="0.5"/>
<line x1="751.5" y1="314.4" x2="750.1" y2="318.4" stroke="#333" stroke-width="0.5"/>
<line x1="754.0" y1="314.4" x2="752.6" y2="318.4" stroke="#333" stroke-width="0.5"/>
<line x1="756.5" y1="314.4" x2="755.1" y2="318.4" stroke="#333" stroke-width="0.5"/>
<line x1="759.0" y1="314.4" x2="757.6" y2="318.4" stroke="#333" stroke-width="0.5"/>
<line x1="761.5" y1="314.4" x2="760.1" y2="318.4" stroke="#333" stroke-width="0.5"/>
<line x1="764.0" y1="314.4" x2="762.6" y2="318.4" stroke="#333" stroke-width="0.5"/>
<line x1="766.5" y1="314.4" x2="765.1" y2="318.4" stroke="#333" stroke-width="0.5"/>
<line x1="769.0" y1="314.4" x2="767.6" y2="318.4" stroke="#333" stroke-width="0.5"/>
<line x1="771.5" y1="314.4" x2="770.1" y2="318.4" stroke="#333" stroke-width="0.5"/>
<line x1="774.0" y1="314.4" x2="772.6" y2="318.4" stroke="#333" stroke-width="0.5"/>
<line x1="776.5" y1="314.4" x2="775.1" y2="318.4" stroke="#333" stroke-width="0.5"/>
<line x1="779.0" y1="314.4" x2="777.6" y2="318.4" stroke="#333" stroke-width="0.5"/>
<line x1="781.5" y1="314.4" x2="780.1" y2="318.4" stroke="#333" stroke-width="0.5"/>
<line x1="784.0" y1="314.4" x2="782.6" y2="318.4" stroke="#333" stroke-width="0.5"/>
<line x1="786.5" y1="314.4" x2="785.1" y2="318.4" stroke="#333" stroke-width="0.5"/>
<path d="M711.8,239.3 H810.7 Q811.4,252 806.2,265.7 Q802,275 796.9,282.2 Q792,289 784.6,294.1 H762" fill="none" stroke="#111" stroke-width="1.9" />
<path d="M711.8,294.1 H738" fill="none" stroke="#111" stroke-width="1.9" />
<path d="M730.9,280.1 Q733.4,281 734.6,285 Q736.4,291.4 738.4,295 Q742.4,302.8 749.5,302.8 Q757.4,302.8 761.6,295 Q764.6,288.4 767,280.1 Q768.4,274 772.2,271.9 Q778,269.2 786.6,264.6 Q795,259 799,251.2 Q801.6,246.4 803.1,240.4" fill="none" stroke="#111" stroke-width="1.4" />
<line x1="736.1" y1="251.2" x2="796.9" y2="251.2" stroke="#111" stroke-width="1.0"/>
<path d="M736.1,251.6 Q738.6,259 741,265 Q746,277.6 749.6,287.4 Q750.4,288.6 751.4,287.2 Q748,277 742.8,264.4 Q740.4,258 738.4,251.6" fill="none" stroke="#111" stroke-width="0.9" />
<path d="M736.1,252.4 L738.6,250.6" fill="none" stroke="#111" stroke-width="0.8" />
<path d="M741,240 Q741,246 742.4,248.4 L755,246" fill="none" stroke="#111" stroke-width="0.8" />
<rect x="712.6" y="243.2" width="4.4" height="12.0" rx="0" fill="none" stroke="#111" stroke-width="0.8"/>
<rect x="717" y="245.2" width="5.4" height="8.2" rx="1" fill="none" stroke="#111" stroke-width="0.8"/>
<line x1="721" y1="245.4" x2="721" y2="253.2" stroke="#111" stroke-width="0.5"/>
<line x1="715.5" y1="257" x2="738.2" y2="257" stroke="#111" stroke-width="0.8"/>
<path d="M741.4,265.7 H714.8 V285.3 H723.7 L725.8,280.1 H730.9" fill="none" stroke="#111" stroke-width="1.0" />
<line x1="733" y1="281.4" x2="767" y2="281.4" stroke="#444" stroke-width="0.5" stroke-dasharray="4 1.6"/>
<line x1="735" y1="284.09999999999997" x2="765" y2="284.09999999999997" stroke="#444" stroke-width="0.5" stroke-dasharray="4 1.6"/>
<line x1="736" y1="286.79999999999995" x2="764" y2="286.79999999999995" stroke="#444" stroke-width="0.5" stroke-dasharray="4 1.6"/>
<line x1="737.6" y1="289.5" x2="763" y2="289.5" stroke="#444" stroke-width="0.5" stroke-dasharray="4 1.6"/>
<line x1="739.4" y1="292.2" x2="761.6" y2="292.2" stroke="#444" stroke-width="0.5" stroke-dasharray="4 1.6"/>
<line x1="741.4" y1="294.9" x2="759.6" y2="294.9" stroke="#444" stroke-width="0.5" stroke-dasharray="4 1.6"/>
<line x1="744" y1="297.59999999999997" x2="757" y2="297.59999999999997" stroke="#444" stroke-width="0.5" stroke-dasharray="4 1.6"/>
<text x="668" y="240.5" font-size="15.5" text-anchor="middle" fill="#3a3a3a" >Ø55</text>
<line x1="685.3" y1="244.3" x2="706.7" y2="244.3" stroke="#2a2a2a" stroke-width="0.6"/>
<line x1="685.3" y1="254.2" x2="706.7" y2="254.2" stroke="#2a2a2a" stroke-width="0.6"/>
<line x1="689.1" y1="231" x2="689.1" y2="237" stroke="#2a2a2a" stroke-width="0.6"/>
<polygon points="689.1,244.3 687.4,236.3 690.8000000000001,236.3" fill="#111"/>
<polygon points="689.1,254.2 687.4,262.2 690.8000000000001,262.2" fill="#111"/>
<line x1="689.1" y1="262" x2="689.1" y2="270" stroke="#2a2a2a" stroke-width="0.6"/>
<text x="662.6" y="282.8" font-size="15.5" text-anchor="middle" fill="#3a3a3a" >Ø100</text>
<line x1="662.5" y1="265.2" x2="685.3" y2="265.2" stroke="#2a2a2a" stroke-width="0.6"/>
<line x1="694.3" y1="265.2" x2="706.7" y2="265.2" stroke="#2a2a2a" stroke-width="0.6"/>
<line x1="662.5" y1="285.6" x2="710.5" y2="285.6" stroke="#2a2a2a" stroke-width="0.6"/>
<line x1="668" y1="248" x2="668" y2="257" stroke="#2a2a2a" stroke-width="0.6"/>
<polygon points="668,265.2 666.3,257.2 669.7,257.2" fill="#111"/>
<polygon points="668,285.6 666.3,293.6 669.7,293.6" fill="#111"/>
<line x1="668" y1="293.6" x2="668" y2="301.4" stroke="#2a2a2a" stroke-width="0.6"/>
<line x1="688.6" y1="276.1" x2="721" y2="276.1" stroke="#666" stroke-width="0.5" stroke-dasharray="7 1.5 2 1.5"/>
<line x1="615.2" y1="276.1" x2="639" y2="276.1" stroke="#2a2a2a" stroke-width="0.6"/>
<line x1="615.2" y1="314.4" x2="706.3" y2="314.4" stroke="#2a2a2a" stroke-width="0.6"/>
<line x1="621" y1="259.5" x2="621" y2="268" stroke="#2a2a2a" stroke-width="0.6"/>
<polygon points="621,276.1 619.3,268.1 622.7,268.1" fill="#111"/>
<polygon points="621,314.4 619.3,322.4 622.7,322.4" fill="#111"/>
<line x1="621" y1="322" x2="621" y2="330" stroke="#2a2a2a" stroke-width="0.6"/>
<text x="622.8" y="301" font-size="15.5" text-anchor="middle" fill="#3a3a3a" >200</text>
<line x1="813" y1="239" x2="854.7" y2="239" stroke="#666" stroke-width="0.5"/>
<line x1="791.8" y1="314.5" x2="854.7" y2="314.5" stroke="#2a2a2a" stroke-width="0.6"/>
<line x1="845.8" y1="247" x2="845.8" y2="268" stroke="#2a2a2a" stroke-width="0.6"/>
<line x1="845.8" y1="287" x2="845.8" y2="306" stroke="#2a2a2a" stroke-width="0.6"/>
<polygon points="845.8,239.3 844.0999999999999,248.3 847.5,248.3" fill="#111"/>
<polygon points="845.8,314.1 844.0999999999999,305.1 847.5,305.1" fill="#111"/>
<text x="845.4" y="283.2" font-size="15.5" text-anchor="middle" fill="#3a3a3a" >400</text>
<text x="806.2" y="297.6" font-size="15.5" text-anchor="middle" fill="#3a3a3a" >40</text>
<line x1="758.8" y1="303.2" x2="832" y2="303.2" stroke="#2a2a2a" stroke-width="0.6"/>
<line x1="820.6" y1="287.3" x2="820.6" y2="295" stroke="#2a2a2a" stroke-width="0.6"/>
<polygon points="820.6,302.8 818.9,294.8 822.3000000000001,294.8" fill="#111"/>
<polygon points="820.6,314.8 818.9,322.8 822.3000000000001,322.8" fill="#111"/>
<line x1="820.6" y1="322.6" x2="820.6" y2="329.6" stroke="#2a2a2a" stroke-width="0.6"/>
</g>
<g id="mat">
<rect x="71" y="453.2" width="119" height="124.5" rx="0" fill="none" stroke="#111" stroke-width="1.3"/>
<line x1="71" y1="416" x2="71" y2="453" stroke="#2a2a2a" stroke-width="0.6"/>
<line x1="190" y1="416" x2="190" y2="453" stroke="#2a2a2a" stroke-width="0.6"/>
<polygon points="71.4,422.2 82.4,418.0 82.4,426.4" fill="#111"/>
<line x1="82" y1="422.2" x2="118.7" y2="422.2" stroke="#2a2a2a" stroke-width="0.7"/>
<line x1="141.3" y1="422.2" x2="179" y2="422.2" stroke="#2a2a2a" stroke-width="0.7"/>
<polygon points="189.6,422.2 178.6,418.0 178.6,426.4" fill="#111"/>
<text x="130" y="427.4" font-size="13" text-anchor="middle" fill="#333" >40</text>
<line x1="190" y1="453.2" x2="226.5" y2="453.2" stroke="#2a2a2a" stroke-width="0.6"/>
<line x1="190" y1="577.7" x2="226.5" y2="577.7" stroke="#2a2a2a" stroke-width="0.6"/>
<polygon points="220.3,453.6 216.10000000000002,464.6 224.5,464.6" fill="#111"/>
<polygon points="220.3,577.5 216.10000000000002,566.5 224.5,566.5" fill="#111"/>
<line x1="220.3" y1="464" x2="220.3" y2="503.4" stroke="#2a2a2a" stroke-width="0.7"/>
<line x1="220.3" y1="523.5" x2="220.3" y2="567" stroke="#2a2a2a" stroke-width="0.7"/>
<text x="220.8" y="519.4" font-size="13" text-anchor="middle" fill="#333" >42</text>
<rect x="122" y="468.8" width="17.6" height="21.6" rx="8.6" ry="9.6" fill="none" stroke="#111" stroke-width="0.8"/>
<rect x="94" y="488" width="12.3" height="4.5" rx="2.2" fill="none" stroke="#111" stroke-width="0.8"/>
<rect x="154.8" y="488" width="12.6" height="4.5" rx="2.2" fill="none" stroke="#111" stroke-width="0.8"/>
<ellipse cx="130.8" cy="519.6" rx="18.2" ry="19.3" fill="none" stroke="#111" stroke-width="0.8"/>
<rect x="128.2" y="546" width="4.8" height="26" rx="2.3" fill="none" stroke="#111" stroke-width="0.8"/>
</g>
<g id="plate">
<rect x="486.7" y="453" width="99.3" height="65.9" rx="1.5" fill="none" stroke="#111" stroke-width="1.5"/>
<line x1="486.3" y1="415.4" x2="486.3" y2="452" stroke="#2a2a2a" stroke-width="0.6"/>
<line x1="585.8" y1="415.4" x2="585.8" y2="452" stroke="#2a2a2a" stroke-width="0.6"/>
<polygon points="486.8,421.2 497.2,415.9 497.2,426.5" fill="#111"/>
<line x1="497" y1="421.2" x2="520.4" y2="421.2" stroke="#2a2a2a" stroke-width="0.7"/>
<line x1="556.8" y1="421.2" x2="575" y2="421.2" stroke="#2a2a2a" stroke-width="0.7"/>
<polygon points="585.4,421.2 575.0,415.9 575.0,426.5" fill="#111"/>
<text x="529.6" y="425.4" font-size="10.5" fill="#555" font-family="'Liberation Sans',sans-serif">24<tspan font-size="6.5" dy="-3.6">6</tspan></text>
<line x1="586.2" y1="452.6" x2="622.2" y2="452.6" stroke="#777" stroke-width="0.5"/>
<line x1="586.2" y1="518.9" x2="622.2" y2="518.9" stroke="#777" stroke-width="0.5"/>
<polygon points="616.8,452.9 611.3,463.5 622.3,463.5" fill="#111"/>
<polygon points="616.8,518.9 611.3,508.29999999999995 622.3,508.29999999999995" fill="#111"/>
<line x1="616.8" y1="463" x2="616.8" y2="477.5" stroke="#2a2a2a" stroke-width="0.7"/>
<line x1="616.8" y1="495.8" x2="616.8" y2="509" stroke="#2a2a2a" stroke-width="0.7"/>
<text x="610.4" y="490.2" font-size="10.5" fill="#555">16<tspan font-size="6.5" dy="-3.6">4</tspan></text>
<circle cx="550.8" cy="485.8" r="20.5" fill="#fff" stroke="#111" stroke-width="1.4"/>
<circle cx="550.8" cy="485.8" r="17.9" fill="none" stroke="#888" stroke-width="0.6"/>
<circle cx="521.9" cy="485.8" r="20.5" fill="#fff" stroke="#111" stroke-width="1.4"/>
<circle cx="521.9" cy="485.8" r="17.7" fill="none" stroke="#888" stroke-width="0.6"/>
<text x="578.2" y="457.6" font-size="2.2" font-weight="bold" text-anchor="middle" fill="#666">■GEBERIT</text>
<line x1="664.3" y1="407.1" x2="677" y2="407.1" stroke="#2a2a2a" stroke-width="0.7"/>
<polygon points="689.6,407.1 676.6,400.6 676.6,413.6" fill="#111"/>
<polygon points="702.9,407.1 715.9,400.6 715.9,413.6" fill="#111"/>
<line x1="716" y1="407.1" x2="728.6" y2="407.1" stroke="#2a2a2a" stroke-width="0.7"/>
<line x1="690" y1="400" x2="690" y2="447" stroke="#2a2a2a" stroke-width="0.6"/>
<line x1="702.9" y1="400" x2="702.9" y2="461.4" stroke="#2a2a2a" stroke-width="0.6"/>
<text x="733.3" y="411.8" font-size="10.5" fill="#555">2<tspan font-size="6.5" dy="-3.6">3</tspan></text>
<path d="M690,447.9 H696.4 Q703.6,470 703.6,492.4 Q703.4,514 697.6,532.9 H690 Z" fill="none" stroke="#111" stroke-width="1.3" />
<path d="M691.6,449 Q694.6,470 694.6,492 Q694.4,512 691.6,531.6" fill="none" stroke="#999" stroke-width="0.4" />
<rect x="687" y="498.3" width="3" height="4.8" rx="0" fill="#222" stroke="#222" stroke-width="0.5"/>
<rect x="687" y="512.6" width="3" height="5.5" rx="0" fill="#222" stroke="#222" stroke-width="0.5"/>
</g>
</svg>
</body>
</html>
